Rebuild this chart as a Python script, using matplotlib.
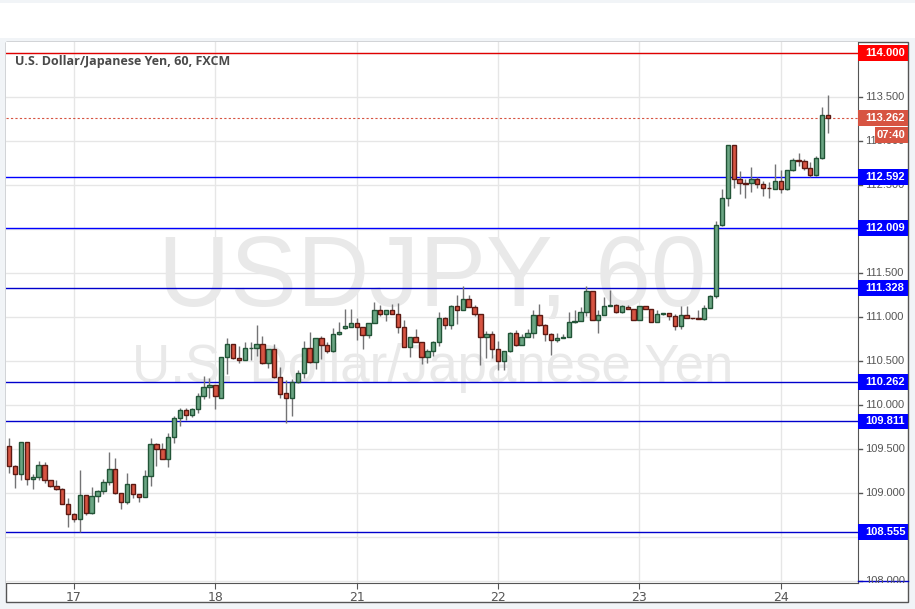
import matplotlib
matplotlib.use("Agg")
import matplotlib.pyplot as plt
from matplotlib.patches import Rectangle
import numpy as np

# hourly USDJPY candles, first candle is 11 bars before day 17 00:00
first_index = -11
opens = [109.537, 109.307, 109.216, 109.578, 109.160, 109.182, 109.318, 109.148, 109.081, 109.047,
         108.873, 108.764, 108.708, 108.979, 108.775, 108.968, 109.017, 109.126, 109.273, 109.000,
         108.900, 109.103, 108.990, 108.952, 109.194, 109.555, 109.495, 109.382, 109.630, 109.849,
         109.940, 109.880, 109.950, 110.100, 110.204, 110.223, 110.083, 110.540, 110.687, 110.528,
         110.513, 110.641, 110.641, 110.687, 110.472, 110.630, 110.320, 110.132, 110.075, 110.257,
         110.358, 110.641, 110.483, 110.755, 110.675, 110.610, 110.800, 110.875, 110.890, 110.925,
         110.890, 110.790, 110.936, 111.083, 111.034, 111.083, 111.034, 110.890, 110.657, 110.777,
         110.710, 110.543, 110.607, 110.720, 110.992, 110.909, 111.121, 111.083, 111.208, 111.117,
         111.030, 110.776, 110.810, 110.640, 110.504, 110.610, 110.822, 110.682, 110.773, 110.822,
         111.019, 110.909, 110.800, 110.742, 110.765, 110.776, 110.940, 110.958, 111.053, 111.300,
         110.962, 111.027, 111.121, 111.133, 111.053, 111.117, 111.095, 110.970, 111.121, 111.095,
         110.947, 111.030, 111.045, 111.008, 110.900, 111.019, 110.990, 110.990, 110.977, 111.106,
         111.234, 112.045, 112.351, 112.951, 112.566, 112.520, 112.517, 112.566, 112.510, 112.465,
         112.453, 112.543, 112.453, 112.668, 112.781, 112.770, 112.694, 112.611, 112.804, 113.299]
highs = [109.620, 109.320, 109.578, 109.580, 109.216, 109.367, 109.356, 109.150, 109.148, 109.050,
         108.945, 108.770, 109.265, 108.980, 109.062, 109.035, 109.160, 109.461, 109.400, 109.000,
         109.224, 109.105, 108.990, 109.265, 109.627, 109.570, 109.570, 109.676, 109.868, 109.970,
         109.960, 109.970, 110.140, 110.328, 110.310, 110.230, 110.545, 110.762, 110.690, 110.664,
         110.720, 110.715, 110.906, 110.780, 110.630, 110.694, 110.430, 110.283, 110.290, 110.396,
         110.725, 110.826, 110.755, 110.780, 110.720, 110.875, 110.940, 111.094, 111.094, 110.990,
         110.890, 110.936, 111.170, 111.140, 111.083, 111.147, 111.155, 110.970, 110.777, 110.860,
         110.710, 110.640, 110.730, 111.053, 110.995, 111.130, 111.246, 111.356, 111.246, 111.140,
         111.035, 110.840, 110.840, 110.724, 110.610, 110.833, 110.850, 110.810, 110.860, 111.076,
         111.152, 110.920, 110.820, 110.820, 110.800, 111.057, 111.076, 111.117, 111.352, 111.300,
         111.076, 111.227, 111.303, 111.150, 111.130, 111.140, 111.095, 111.121, 111.125, 111.095,
         111.083, 111.050, 111.050, 111.030, 111.125, 111.125, 110.990, 111.083, 111.140, 111.246,
         112.087, 112.453, 112.951, 112.951, 112.660, 112.566, 112.706, 112.590, 112.547, 112.536,
         112.743, 112.668, 112.668, 112.810, 112.860, 112.800, 112.762, 112.830, 113.383, 113.523]
lows = [109.224, 109.054, 109.141, 109.092, 109.047, 109.148, 109.114, 109.070, 109.035, 108.870,
        108.606, 108.670, 108.557, 108.745, 108.765, 108.896, 108.990, 109.088, 108.990, 108.820,
        108.870, 108.945, 108.900, 108.950, 109.077, 109.310, 109.380, 109.292, 109.563, 109.763,
        109.830, 109.860, 109.910, 110.064, 110.075, 109.958, 110.075, 110.355, 110.520, 110.479,
        110.510, 110.513, 110.555, 110.470, 110.415, 110.310, 110.083, 109.789, 109.868, 110.250,
        110.310, 110.480, 110.410, 110.525, 110.595, 110.600, 110.790, 110.865, 110.880, 110.743,
        110.638, 110.760, 110.930, 111.010, 110.950, 111.030, 110.820, 110.657, 110.543, 110.710,
        110.460, 110.475, 110.550, 110.670, 110.860, 110.860, 110.924, 111.080, 111.110, 111.010,
        110.450, 110.538, 110.530, 110.400, 110.400, 110.600, 110.670, 110.680, 110.770, 110.760,
        110.900, 110.730, 110.564, 110.720, 110.760, 110.770, 110.930, 110.950, 111.010, 110.960,
        110.820, 111.020, 111.120, 111.050, 111.050, 111.090, 110.960, 110.970, 111.090, 110.945,
        110.945, 111.020, 110.960, 110.856, 110.860, 110.985, 110.980, 110.975, 110.970, 111.100,
        111.220, 112.030, 112.257, 112.470, 112.396, 112.350, 112.415, 112.470, 112.370, 112.347,
        112.450, 112.404, 112.440, 112.660, 112.717, 112.668, 112.596, 112.600, 112.790, 113.094]
closes = [109.303, 109.216, 109.578, 109.160, 109.182, 109.318, 109.148, 109.081, 109.047, 108.873,
          108.764, 108.708, 108.979, 108.772, 108.968, 109.017, 109.126, 109.273, 109.000, 108.900,
          109.103, 108.990, 108.952, 109.194, 109.555, 109.495, 109.382, 109.638, 109.849, 109.936,
          109.880, 109.950, 110.100, 110.204, 110.223, 110.098, 110.540, 110.687, 110.528, 110.513,
          110.641, 110.645, 110.687, 110.472, 110.630, 110.320, 110.128, 110.075, 110.257, 110.358,
          110.641, 110.483, 110.755, 110.675, 110.610, 110.800, 110.834, 110.894, 110.925, 110.890,
          110.790, 110.936, 111.083, 111.034, 111.083, 111.034, 110.890, 110.657, 110.777, 110.710,
          110.543, 110.607, 110.720, 110.992, 110.909, 111.121, 111.083, 111.208, 111.117, 111.030,
          110.776, 110.810, 110.640, 110.504, 110.610, 110.822, 110.682, 110.773, 110.822, 111.019,
          110.909, 110.800, 110.742, 110.765, 110.776, 110.940, 110.958, 111.053, 111.300, 110.962,
          111.027, 111.121, 111.133, 111.053, 111.121, 111.095, 110.970, 111.121, 111.095, 110.947,
          111.030, 111.045, 111.008, 110.900, 111.019, 110.990, 110.985, 110.977, 111.106, 111.234,
          112.045, 112.351, 112.951, 112.566, 112.517, 112.515, 112.566, 112.510, 112.460, 112.460,
          112.543, 112.453, 112.668, 112.781, 112.770, 112.694, 112.611, 112.804, 113.299, 113.262]

day_labels = ["17", "18", "21", "22", "23", "24"]
day_positions = [0, 24, 48, 72, 96, 120]
level_prices = [112.592, 112.009, 111.328, 110.262, 109.811, 108.555]
resistance = 114.000
last_price = 113.262
countdown = "07:40"
title = "U.S. Dollar/Japanese Yen, 60, FXCM"

W, H = 915, 609
UP, DOWN = "#6ba583", "#d75442"
UP_EDGE, DOWN_EDGE = "#225437", "#5b1a13"

fig = plt.figure(figsize=(W / 100, H / 100), dpi=100)
fig.patch.set_facecolor("#f1f4f7")

# white strip on top and the chart frame
fig.add_artist(Rectangle((0, (H - 38) / H), 1, 35 / H, transform=fig.transFigure,
                         facecolor="white", edgecolor="none", zorder=-2))
fig.add_artist(Rectangle((6 / W, (H - 602) / H), 902 / W, 560 / H, transform=fig.transFigure,
                         facecolor="white", edgecolor="#555555", lw=1, zorder=-1))

ax = fig.add_axes([6 / W, (H - 583) / H, 852 / W, 541 / H])
pax = fig.add_axes([858 / W, (H - 583) / H, 50 / W, 541 / H])
ylo, yhi = 107.975, 114.125
ax.set_ylim(ylo, yhi)
ax.set_xlim(-11.545, 133.1)
pax.set_ylim(ylo, yhi)
pax.set_xlim(0, 1)
pax.axis("off")

for s in ["left", "top"]:
    ax.spines[s].set_visible(False)
for s in ["right", "bottom"]:
    ax.spines[s].set_color("#555555")

ticks = np.arange(108.0, 114.01, 0.5)
ax.set_yticks(ticks)
ax.set_xticks(day_positions)
ax.set_xticklabels(day_labels)
ax.tick_params(axis="y", left=False, labelleft=False)
ax.tick_params(axis="x", length=4, color="#555555", labelcolor="#555555", labelsize=9, pad=2)
ax.grid(True, color="#e6e6e6", lw=1, zorder=0)
ax.set_axisbelow(True)

# watermark
ax.text(60.8, 111.42, "USDJPY, 60", fontsize=72, family="Liberation Sans", color="#e9e9e9",
        ha="center", va="center", zorder=1)
ax.text(60.8, 110.42, "U.S. Dollar/Japanese Yen", fontsize=38, family="Liberation Sans",
        color="#e9e9e9", ha="center", va="center", zorder=1)

# candles
xs = np.arange(len(opens)) + first_index
o = np.array(opens); h = np.array(highs); l = np.array(lows); c = np.array(closes)
up = c >= o
ax.vlines(xs, l, h, color="#737375", lw=1, zorder=3)
body = np.maximum(np.abs(c - o), 0.008)
ax.bar(xs[up], body[up], bottom=np.minimum(o, c)[up], width=0.74, color=UP,
       edgecolor=UP_EDGE, lw=1, zorder=4)
ax.bar(xs[~up], body[~up], bottom=np.minimum(o, c)[~up], width=0.74, color=DOWN,
       edgecolor=DOWN_EDGE, lw=1, zorder=4)

# horizontal levels
ax.axhline(resistance, color="#e00000", lw=1, zorder=2)
for i, p in enumerate(level_prices):
    ax.axhline(p, color="#0000ff" if i < 2 else "#0000cc", lw=1, zorder=2)
ax.axhline(last_price, color=DOWN, lw=0.8, ls=(0, (2, 2)), zorder=2)

# price scale
for p in ticks:
    pax.plot([0, 0.08], [p, p], color="#555555", lw=1, clip_on=True)
    pax.text(0.15, p, f"{p:.3f}", fontsize=8, family="Liberation Sans", color="#555555",
             va="center", ha="left", clip_on=True)
pax.plot([0, 1], [107.998, 107.998], color="#0000cc", lw=1, clip_on=False)


def price_tag(p, text, color, x0=0.0):
    pax.add_patch(Rectangle((x0, p - 0.09), 1 - x0, 0.18, facecolor=color, edgecolor="none",
                            zorder=5, clip_on=False))
    pax.text(0.15 if x0 == 0 else (x0 + 1) / 2, p, text, fontsize=8, family="Liberation Sans",
             weight="bold", color="white", va="center", ha="left" if x0 == 0 else "center",
             zorder=6, clip_on=False)


price_tag(resistance, f"{resistance:.3f}", "#ff0000")
price_tag(last_price, f"{last_price:.3f}", DOWN)
price_tag(113.068, countdown, DOWN, x0=0.33)
for p in level_prices:
    price_tag(p, f"{p:.3f}", "#0000ff")

fig.text(15 / W, 1 - 61 / H, title, fontsize=9, weight="bold", family="Open Sans",
         color="#4a4a4a", va="center", ha="left")

fig.savefig("out.png", dpi=100, facecolor=fig.get_facecolor())
